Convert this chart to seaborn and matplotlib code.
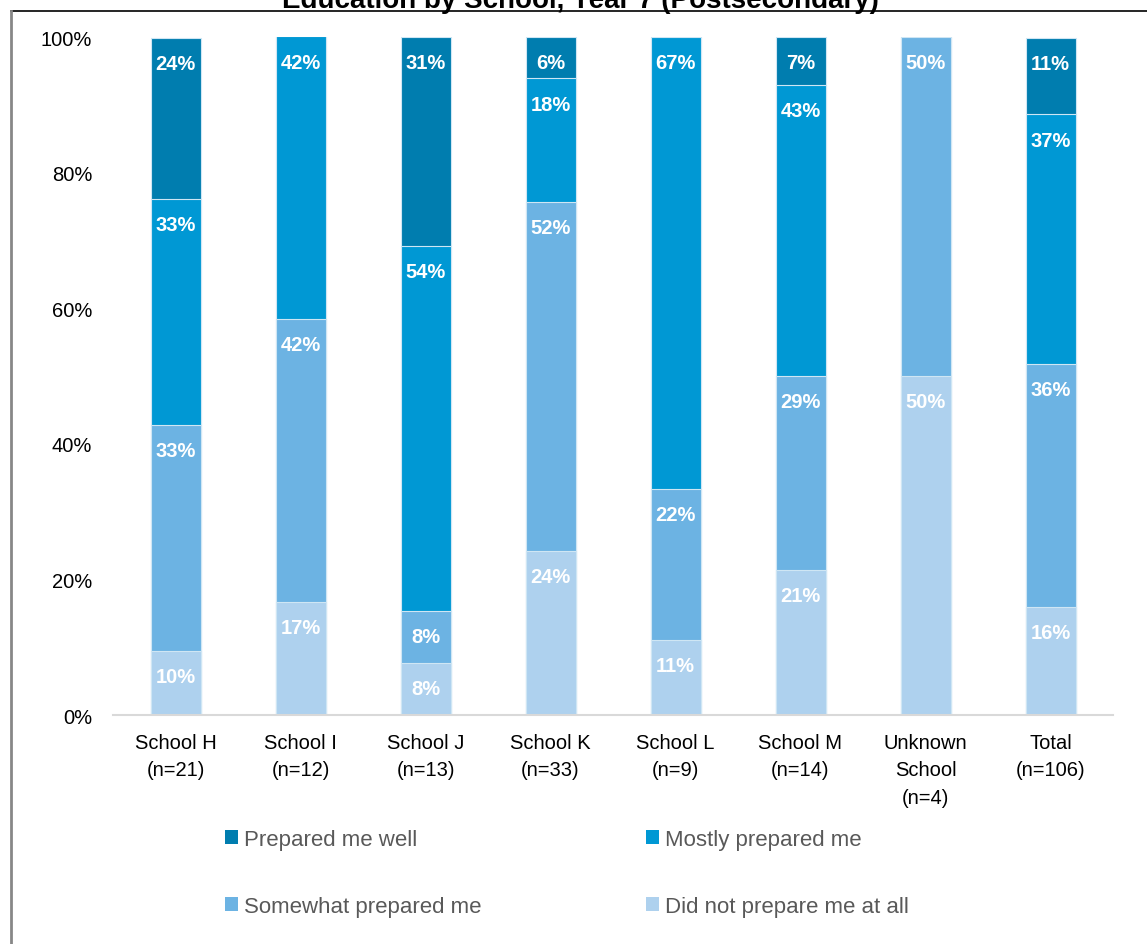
import numpy as np
import pandas as pd
import matplotlib
matplotlib.use('Agg')
import matplotlib.pyplot as plt
import seaborn as sb
from matplotlib.patches import Patch
from matplotlib.lines import Line2D

#-------------------------------------------------------------------------------------------------
# data
#-------------------------------------------------------------------------------------------------
schools = ['School H\n(n=21)', 'School I\n(n=12)', 'School J\n(n=13)', 'School K\n(n=33)',
           'School L\n(n=9)', 'School M\n(n=14)', 'Unknown\nSchool\n(n=4)', 'Total\n(n=106)']
did_not = [9.5, 16.7, 7.7, 24.2, 11.1, 21.4, 50.0, 16.0]
somewhat = [33.3, 41.7, 7.7, 51.5, 22.2, 28.6, 50.0, 35.8]
mostly = [33.3, 41.7, 53.8, 18.2, 66.7, 42.9, 0.0, 36.8]
well = [23.8, 0.0, 30.8, 6.1, 0.0, 7.1, 0.0, 11.3]

levels = ['Did not prepare me at all', 'Somewhat prepared me', 'Mostly prepared me', 'Prepared me well']
colors = ['#AED1EE', '#6CB3E3', '#0098D4', '#007DAF']

df = pd.DataFrame({'School': schools, levels[0]: did_not, levels[1]: somewhat,
                   levels[2]: mostly, levels[3]: well})
cum = df[levels].cumsum(axis=1)

#-------------------------------------------------------------------------------------------------
# plot
#-------------------------------------------------------------------------------------------------
plt.rcParams['font.family'] = ['Liberation Sans', 'DejaVu Sans']
fig = plt.figure(figsize=(11.47, 9.45), dpi=100)
ax = fig.add_axes([113/1147, 1-716/945, 1000/1147, (716-38)/945])

# stacked bars: draw the tallest cumulative layer first
for lvl, col in zip(levels[::-1], colors[::-1]):
    sb.barplot(x=df['School'], y=cum[lvl], color=col, width=0.4, ax=ax,
               edgecolor='#cfe6f4', linewidth=0.8, saturation=1)

# labels at top of each segment
for i in range(len(schools)):
    for lvl in levels:
        v = df[lvl][i]
        if round(v) == 0:
            continue
        ax.text(i, cum[lvl][i] - 3.8, f'{round(v)}%', ha='center', va='center',
                color='white', fontsize=14.5, fontweight='bold')

ax.set_ylim(0, 100)
ax.set_xlim(-0.5, 7.5)
ax.set_yticks([0, 20, 40, 60, 80, 100])
ax.set_yticklabels([f'{t}%' for t in [0, 20, 40, 60, 80, 100]])
ax.set_xlabel('')
ax.set_ylabel('')
ax.tick_params(axis='both', length=0, labelsize=14.5, colors='black')
ax.tick_params(axis='y', pad=15)
ax.tick_params(axis='x', pad=13)
plt.setp(ax.get_xticklabels(), linespacing=1.55)
for s in ['top', 'right', 'left']:
    ax.spines[s].set_visible(False)
ax.spines['bottom'].set_color('#d9d9d9')
ax.spines['bottom'].set_linewidth(1.5)

# legend
order = [3, 1, 2, 0]
handles = [Patch(facecolor=colors[k], edgecolor='none') for k in order]
fig.legend(handles, [levels[k] for k in order], ncol=2, loc='upper left',
           bbox_to_anchor=(205/1147, 1-810/945), frameon=False, fontsize=16,
           labelcolor='#595959', handlelength=0.6, handleheight=0.6, handletextpad=0.25,
           labelspacing=2.05, columnspacing=7.4)

# chart title (cut off at top in the original) and frame
fig.text(580/1147, 1-8/945, 'Education by School, Year 7 (Postsecondary)', ha='center',
         va='baseline', fontsize=20, fontweight='bold')
fig.add_artist(Line2D([11/1147, 1], [1-12/945, 1-12/945], color='black', lw=1.2,
                      transform=fig.transFigure))
fig.add_artist(Line2D([11/1147, 11/1147], [0, 1-12/945], color='#878787', lw=2,
                      transform=fig.transFigure))

plt.savefig('out.png', dpi=100)
